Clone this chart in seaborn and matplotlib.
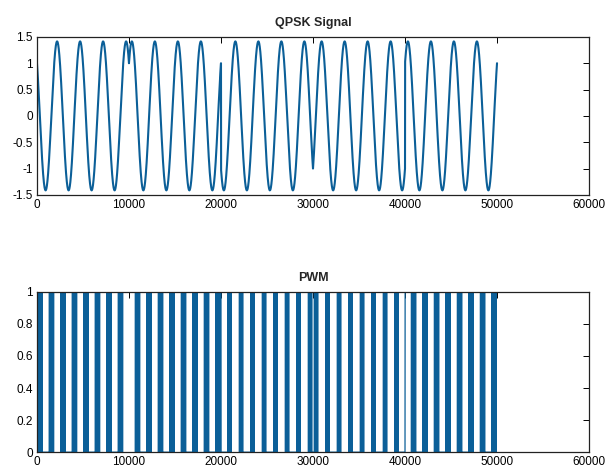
import numpy as np
import pandas as pd
import matplotlib
matplotlib.use("Agg")
import matplotlib.pyplot as plt
import seaborn as sns

# QPSK symbols (one symbol per 10000 samples)
bits_i = [1, 1, -1, -1, 1]
bits_q = [1, -1, 1, -1, -1]
samples_per_symbol = 10000
n_samples = 50000
carrier_period = 2500      # 4 carrier cycles per symbol
pwm_period = 100           # triangle reference of the PWM comparator
pwm_ref_amp = 0.85

x_ticks = [0, 10000, 20000, 30000, 40000, 50000, 60000]
qpsk_yticks = [-1.5, -1, -0.5, 0, 0.5, 1, 1.5]
qpsk_ylabels = ["-1.5", "-1", "-0.5", "0", "0.5", "1", "1.5"]
pwm_yticks = [0, 0.2, 0.4, 0.6, 0.8, 1]
pwm_ylabels = ["0", "0.2", "0.4", "0.6", "0.8", "1"]
titles = ["QPSK Signal", "PWM"]

line_color = "#0b5f98"


def build_signals():
    t = np.arange(1, n_samples + 1)
    k = (t - 1) // samples_per_symbol
    i_sym = np.array(bits_i)[k]
    q_sym = np.array(bits_q)[k]
    w = 2 * np.pi * t / carrier_period
    qpsk = i_sym * np.cos(w) - q_sym * np.sin(w)
    # PWM: compare the QPSK signal with a triangle reference
    tri = pwm_ref_amp * (2 * np.abs(2 * ((t / pwm_period) % 1) - 1) - 1)
    pwm = (qpsk > tri).astype(float)
    return pd.DataFrame({"t": t, "qpsk": qpsk, "pwm": pwm})


def style_axis(ax, yticks, ylabels, ylim, title):
    ax.set_xlim(0, 60000)
    ax.set_ylim(*ylim)
    ax.set_xticks(x_ticks)
    ax.set_xticklabels([str(v) for v in x_ticks])
    ax.set_yticks(yticks)
    ax.set_yticklabels(ylabels)
    ax.set_xlabel("")
    ax.set_ylabel("")
    ax.tick_params(direction="in", top=True, right=True, length=4, width=0.7,
                   labelsize=8.5, pad=3, colors="black")
    for sp in ax.spines.values():
        sp.set_visible(True)
        sp.set_color("#222222")
        sp.set_linewidth(0.9)
    ax.set_title(title, fontsize=9, fontweight="bold", pad=8)


def main():
    sns.set_style("white")
    plt.rcParams["font.family"] = ["Liberation Sans", "DejaVu Sans"]

    df = build_signals()

    fig = plt.figure(figsize=(6.06, 4.73), dpi=100)
    ax1 = fig.add_axes([0.061, 0.588, 0.911, 0.334])
    ax2 = fig.add_axes([0.061, 0.044, 0.911, 0.339])

    sns.lineplot(data=df, x="t", y="qpsk", ax=ax1, color=line_color,
                 linewidth=1.5, estimator=None, sort=False)
    style_axis(ax1, qpsk_yticks, qpsk_ylabels, (-1.5, 1.5), titles[0])

    sns.lineplot(data=df, x="t", y="pwm", ax=ax2, color=line_color,
                 linewidth=0.9, estimator=None, sort=False)
    style_axis(ax2, pwm_yticks, pwm_ylabels, (0, 1), titles[1])

    fig.savefig("out.png", dpi=100)
    plt.close(fig)


if __name__ == "__main__":
    main()
